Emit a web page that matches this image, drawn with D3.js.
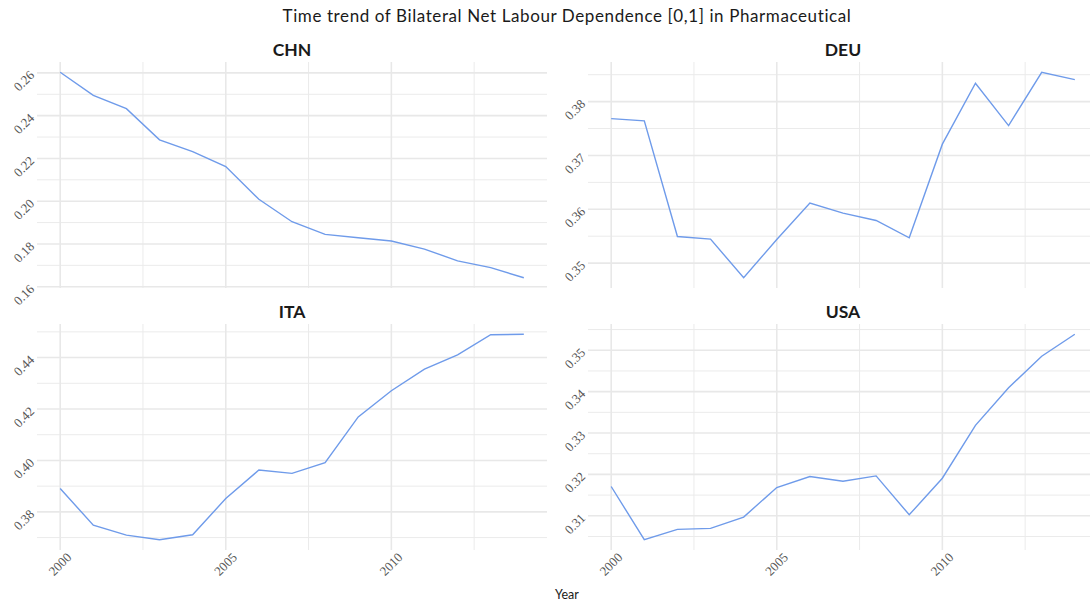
<!DOCTYPE html>
<meta charset="utf-8">
<script src="https://d3js.org/d3.v7.min.js"></script>
<style>
  body { margin: 0; background: #fff; }
  .tick-y, .tick-x { font-family: "Liberation Serif", "DejaVu Serif", serif; font-size: 13px; fill: #555; }
  .strip { font-family: Lato, "Open Sans", sans-serif; font-weight: bold; font-size: 17.5px; fill: #1a1a1a; }
</style>
<body>
<div id="chart"></div>
<script>
// data
var years = [2000, 2001, 2002, 2003, 2004, 2005, 2006, 2007, 2008, 2009, 2010, 2011, 2012, 2013, 2014];
var countries = ["CHN", "DEU", "ITA", "USA"];
var chnValues = [0.2603, 0.2495, 0.2433, 0.2287, 0.2232, 0.2162, 0.2009, 0.1904, 0.1845, 0.1829, 0.1814, 0.1776, 0.1721, 0.1689, 0.1642];
var deuValues = [0.37685, 0.37642, 0.35495, 0.35446, 0.34729, 0.3544, 0.36115, 0.3593, 0.35792, 0.35471, 0.3721, 0.38341, 0.37555, 0.38545, 0.38408];
var itaValues = [0.38905, 0.37484, 0.37097, 0.36916, 0.37109, 0.38518, 0.39625, 0.39497, 0.39912, 0.41693, 0.42711, 0.43551, 0.44105, 0.4489, 0.44906];
var usaValues = [0.31708, 0.30422, 0.30672, 0.30696, 0.30969, 0.31684, 0.31949, 0.31836, 0.31964, 0.31024, 0.31908, 0.33186, 0.34094, 0.34855, 0.35386];
var xTicks = [2000, 2005, 2010];
var xMinor = [2002.5, 2007.5, 2012.5];

var series = [chnValues, deuValues, itaValues, usaValues];

var width = 1090, height = 605;
var svg = d3.select("#chart").append("svg")
  .attr("width", width)
  .attr("height", height);

// title
svg.append("text")
  .attr("x", 567)
  .attr("y", 22)
  .attr("text-anchor", "middle")
  .attr("font-family", "Lato, 'Open Sans', sans-serif")
  .attr("font-size", "17px")
  .attr("letter-spacing", "0.6px")
  .attr("fill", "#1a1a1a")
  .text("Time trend of Bilateral Net Labour Dependence [0,1] in Pharmaceutical");

// x axis title
svg.append("text")
  .attr("x", 567)
  .attr("y", 599)
  .attr("text-anchor", "middle")
  .attr("font-family", "Lato, 'Open Sans', sans-serif")
  .attr("font-size", "12.5px")
  .attr("fill", "#1a1a1a")
  .text("Year");

var panelW = 510, panelH = 226;
var panelX = [37, 588], panelY = [62, 324];

countries.forEach(function (name, i) {
  var vals = series[i];
  var px = panelX[i % 2], py = panelY[Math.floor(i / 2)];
  var g = svg.append("g").attr("transform", "translate(" + px + "," + py + ")");

  var xPad = (d3.max(years) - d3.min(years)) * 0.05;
  var x = d3.scaleLinear()
    .domain([d3.min(years) - xPad, d3.max(years) + xPad])
    .range([0, panelW]);

  var lo = d3.min(vals), hi = d3.max(vals), pad = (hi - lo) * 0.05;
  var y = d3.scaleLinear()
    .domain([lo - pad, hi + pad])
    .range([panelH, 0]);

  var yTicks = y.ticks(5);
  var step = yTicks[1] - yTicks[0];
  var yMinor = [yTicks[0] - step / 2].concat(yTicks.map(function (t) { return t + step / 2; }))
    .filter(function (t) { return t >= y.domain()[0] && t <= y.domain()[1]; });

  // minor grid
  g.selectAll(".ymin").data(yMinor).enter().append("line")
    .attr("x1", 0).attr("x2", panelW)
    .attr("y1", function (d) { return y(d); }).attr("y2", function (d) { return y(d); })
    .attr("stroke", "#ebebeb").attr("stroke-width", 1);
  g.selectAll(".xmin").data(xMinor).enter().append("line")
    .attr("y1", 0).attr("y2", panelH)
    .attr("x1", function (d) { return x(d); }).attr("x2", function (d) { return x(d); })
    .attr("stroke", "#ebebeb").attr("stroke-width", 1);

  // major grid
  g.selectAll(".ymaj").data(yTicks).enter().append("line")
    .attr("x1", 0).attr("x2", panelW)
    .attr("y1", function (d) { return y(d); }).attr("y2", function (d) { return y(d); })
    .attr("stroke", "#e8e8e8").attr("stroke-width", 1.6);
  g.selectAll(".xmaj").data(xTicks).enter().append("line")
    .attr("y1", 0).attr("y2", panelH)
    .attr("x1", function (d) { return x(d); }).attr("x2", function (d) { return x(d); })
    .attr("stroke", "#e8e8e8").attr("stroke-width", 1.6);

  // y tick labels, rotated
  g.selectAll(".tick-y").data(yTicks).enter().append("text")
    .attr("class", "tick-y")
    .attr("text-anchor", "end")
    .attr("dominant-baseline", "middle")
    .attr("transform", function (d) { return "translate(-4," + (y(d) + 1) + ") rotate(-45)"; })
    .text(function (d) { return d3.format(".2f")(d); });

  // x tick labels only on bottom row
  if (i >= 2) {
    g.selectAll(".tick-x").data(xTicks).enter().append("text")
      .attr("class", "tick-x")
      .attr("text-anchor", "end")
      .attr("dominant-baseline", "middle")
      .attr("transform", function (d) { return "translate(" + (x(d) + 10) + "," + (panelH + 6) + ") rotate(-45)"; })
      .text(function (d) { return d; });
  }

  // strip label
  svg.append("text")
    .attr("class", "strip")
    .attr("x", px + panelW / 2)
    .attr("y", py - 6)
    .attr("text-anchor", "middle")
    .text(name);

  // the line
  var line = d3.line()
    .x(function (d, j) { return x(years[j]); })
    .y(function (d) { return y(d); });
  g.append("path")
    .datum(vals)
    .attr("d", line)
    .attr("fill", "none")
    .attr("stroke", "#6f9bea")
    .attr("stroke-width", 1.4);
});
</script>
</body>
